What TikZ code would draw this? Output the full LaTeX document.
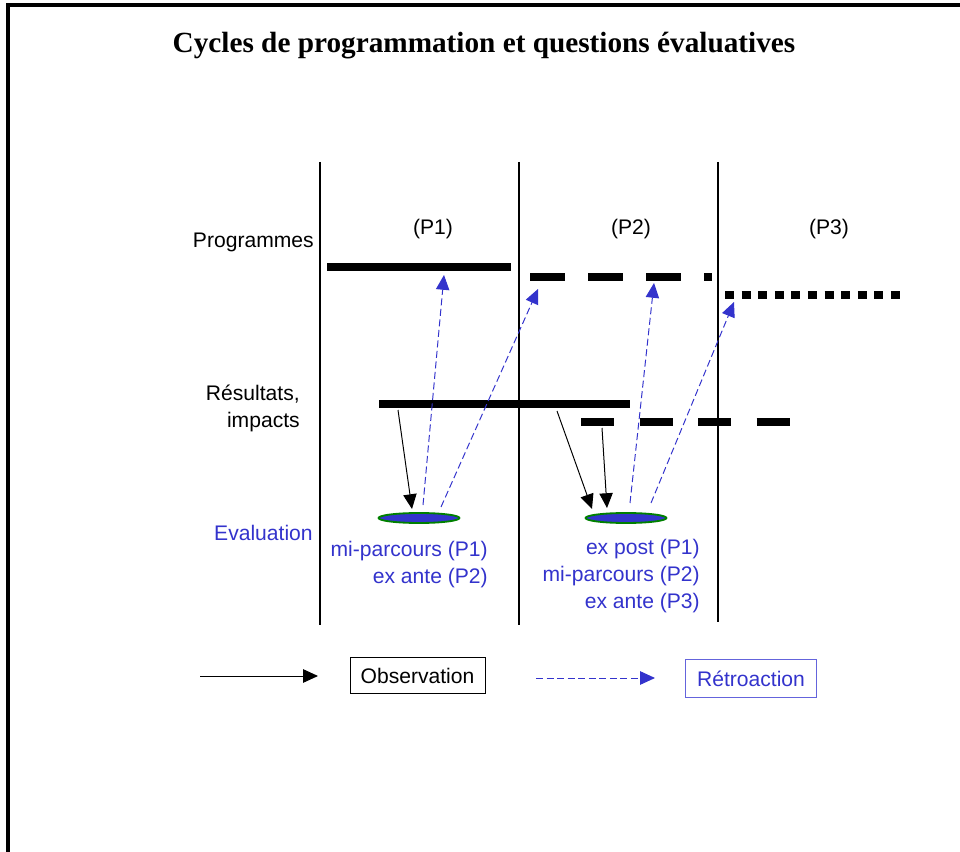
\documentclass[tikz,border=0pt]{standalone}
\usepackage{fontspec}
\setmainfont{Liberation Sans}
\newfontfamily\titlefont{Liberation Serif}
\usepackage{tikz}
\usetikzlibrary{arrows.meta}
\usetikzlibrary{shapes}
\definecolor{evalblue}{RGB}{51,51,204}
\definecolor{evalgreen}{RGB}{0,128,0}
\definecolor{boxblue}{RGB}{100,100,220}

\begin{document}
\begin{tikzpicture}[x=0.025cm, y=-0.025cm,
        title_style/.style={font=\titlefont\bfseries\fontsize{20.8}{24}\selectfont, inner sep=0pt},
        text_style/.style={font=\fontsize{15}{19}\selectfont, inner sep=0pt},
        blue_text_style/.style={text_style, text=evalblue},
        frame_style/.style={draw=black, line width=2.2pt},
        period_style/.style={draw=black, line width=2.1pt},
        bar_style/.style={draw=black, line width=5.8pt},
        eval_style/.style={ellipse, draw=evalgreen, fill=evalblue, line width=1.3pt, minimum width=2.02cm, minimum height=0.25cm, inner sep=0pt},
        obs_edge_style/.style={draw=black, line width=0.7pt, -{Triangle[length=10.5pt,width=9.5pt]}},
        retro_edge_style/.style={draw=evalblue, line width=0.7pt, dash pattern=on 5pt off 2.5pt, -{Triangle[length=10.5pt,width=9.5pt]}}]

        \useasboundingbox (0,0) rectangle (960,852);

        \draw [frame_style] (8,852) -- (8,5) -- (960,5);

        \node [title_style](title) at (484,46) {Cycles de programmation et questions évaluatives};

        \draw [period_style] (320,162) -- (320,625);

        \draw [period_style] (519,162) -- (519,625);

        \draw [period_style] (718,162) -- (718,622);

        \node [text_style](p1) at (433,229) {(P1)};

        \node [text_style](p2) at (631,229) {(P2)};

        \node [text_style](p3) at (829,229) {(P3)};

        \node [text_style, anchor=east](prog) at (314,242) {Programmes};

        \node [text_style, align=right, anchor=north east](res) at (300,385) {Résultats,\\impacts};

        \node [blue_text_style, anchor=east](evl) at (313,533) {Evaluation};

        \draw [bar_style] (327,267) -- (511,267);

        \draw [bar_style, dash pattern=on 24.9pt off 16.4pt] (530,277) -- (712,277);

        \draw [bar_style, dash pattern=on 6.4pt off 5.4pt] (725,295) -- (900,295);

        \draw [bar_style] (379,404) -- (630,404);

        \draw [bar_style, dash pattern=on 23.5pt off 18.1pt] (581,422) -- (790,422);

        \node [eval_style](e1) at (419,518) {};

        \node [eval_style](e2) at (626,518) {};

        \node [blue_text_style, align=right, anchor=north east](t1) at (488,541) {mi-parcours (P1)\\ex ante (P2)};

        \node [blue_text_style, align=right, anchor=north east](t2) at (700,539) {ex post (P1)\\mi-parcours (P2)\\ex ante (P3)};

        \coordinate (o1a) at (398,410);
        \coordinate (o1b) at (412,509);
        \coordinate (o2a) at (557,411);
        \coordinate (o2b) at (592,509);
        \coordinate (o3a) at (602,428);
        \coordinate (o3b) at (607,508);

        \coordinate (r1a) at (423,505);
        \coordinate (r1b) at (444,275);
        \coordinate (r2a) at (441,507);
        \coordinate (r2b) at (538,289);
        \coordinate (r3a) at (630,503);
        \coordinate (r3b) at (654,283);
        \coordinate (r4a) at (651,503);
        \coordinate (r4b) at (734,302);

        \draw [obs_edge_style] (o1a) -- (o1b);

        \draw [obs_edge_style] (o2a) -- (o2b);

        \draw [obs_edge_style] (o3a) -- (o3b);

        \draw [retro_edge_style] (r1a) -- (r1b);

        \draw [retro_edge_style] (r2a) -- (r2b);

        \draw [retro_edge_style] (r3a) -- (r3b);

        \draw [retro_edge_style] (r4a) -- (r4b);

        \node [text_style, draw=black, line width=0.7pt, minimum width=96pt, minimum height=26pt](obs) at (417.5,675.5) {Observation};

        \node [blue_text_style, draw=boxblue, line width=0.7pt, minimum width=92.5pt, minimum height=27pt](retro) at (751,678.5) {Rétroaction};

        \coordinate (leg_obs_a) at (200,676);
        \coordinate (leg_obs_b) at (318,676);
        \coordinate (leg_retro_a) at (536,678);
        \coordinate (leg_retro_b) at (655,678);

        \draw [obs_edge_style] (leg_obs_a) -- (leg_obs_b);

        \draw [retro_edge_style] (leg_retro_a) -- (leg_retro_b);

        \end{tikzpicture}
\end{document}
